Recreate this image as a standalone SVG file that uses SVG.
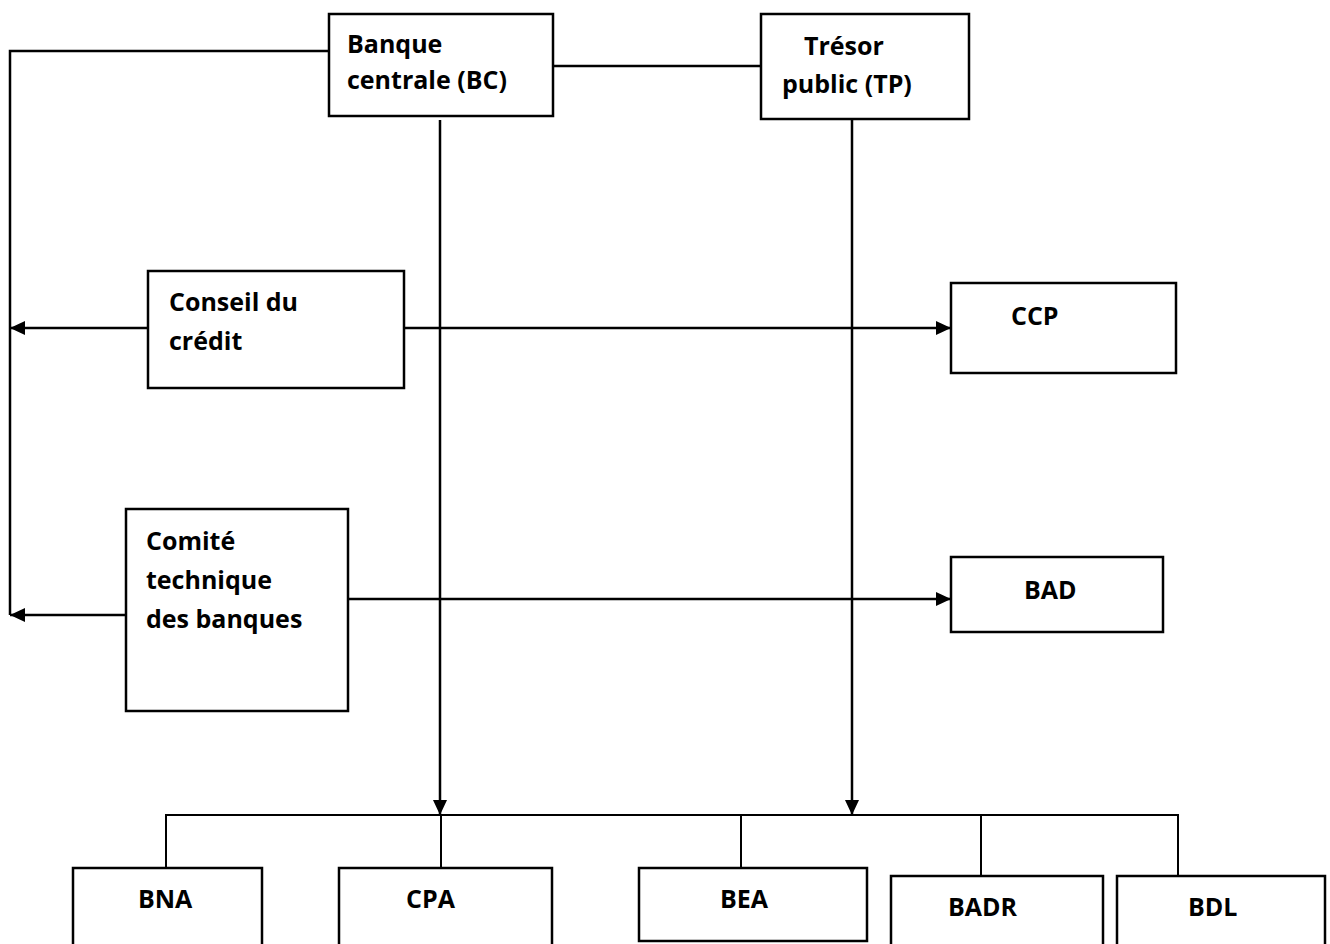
<svg xmlns="http://www.w3.org/2000/svg" width="1330" height="944" viewBox="0 0 1330 944">
<style>
.box{fill:#fff;stroke:#000;stroke-width:2.5}
.ln{fill:none;stroke:#000;stroke-width:2.5}
.thin{fill:none;stroke:#000;stroke-width:2}
text{font-family:"Open Sans","Liberation Sans",sans-serif;font-weight:bold;font-size:25px;fill:#000}
</style>
<defs>
<marker id="arr" viewBox="0 0 15 14" markerWidth="15" markerHeight="14" refX="15" refY="7" orient="auto" markerUnits="userSpaceOnUse">
<path d="M0,0 L15,7 L0,14 z" fill="#000"/>
</marker>
</defs>
<rect width="1330" height="944" fill="#fff"/>
<g id="connectors">
<polyline class="ln" points="329,51 10,51 10,615"/>
<line class="ln" x1="553" y1="66" x2="761" y2="66"/>
<line class="ln" x1="148" y1="328" x2="10" y2="328" marker-end="url(#arr)"/>
<line class="ln" x1="404" y1="328" x2="951" y2="328" marker-end="url(#arr)"/>
<line class="ln" x1="126" y1="615" x2="10" y2="615" marker-end="url(#arr)"/>
<line class="ln" x1="348" y1="599" x2="951" y2="599" marker-end="url(#arr)"/>
<line class="ln" x1="440" y1="120" x2="440" y2="815" marker-end="url(#arr)"/>
<line class="ln" x1="852" y1="120" x2="852" y2="815" marker-end="url(#arr)"/>
<polyline class="thin" points="166,868 166,815 1178,815 1178,876"/>
<line class="thin" x1="441" y1="815" x2="441" y2="868"/>
<line class="thin" x1="741" y1="815" x2="741" y2="868"/>
<line class="thin" x1="981" y1="815" x2="981" y2="876"/>
</g>
<g id="bc"><rect class="box" x="329" y="14" width="224" height="102"/><text x="347" y="53">Banque</text><text x="347" y="89">centrale (BC)</text></g>
<g id="tp"><rect class="box" x="761" y="14" width="208" height="105"/><text x="804" y="55">Trésor</text><text x="782" y="93">public (TP)</text></g>
<g id="conseil"><rect class="box" x="148" y="271" width="256" height="117"/><text x="169" y="311">Conseil du</text><text x="169" y="350">crédit</text></g>
<g id="ccp"><rect class="box" x="951" y="283" width="225" height="90"/><text x="1011" y="325">CCP</text></g>
<g id="comite"><rect class="box" x="126" y="509" width="222" height="202"/><text x="146" y="550">Comité</text><text x="146" y="589">technique</text><text x="146" y="628">des banques</text></g>
<g id="bad"><rect class="box" x="951" y="557" width="212" height="75"/><text x="1024" y="599">BAD</text></g>
<g id="bna"><rect class="box" x="73" y="868" width="189" height="90"/><text x="138" y="908">BNA</text></g>
<g id="cpa"><rect class="box" x="339" y="868" width="213" height="90"/><text x="406" y="908">CPA</text></g>
<g id="bea"><rect class="box" x="639" y="868" width="228" height="73"/><text x="720" y="908">BEA</text></g>
<g id="badr"><rect class="box" x="891" y="876" width="212" height="90"/><text x="948" y="916">BADR</text></g>
<g id="bdl"><rect class="box" x="1117" y="876" width="208" height="90"/><text x="1188" y="916">BDL</text></g>
</svg>
